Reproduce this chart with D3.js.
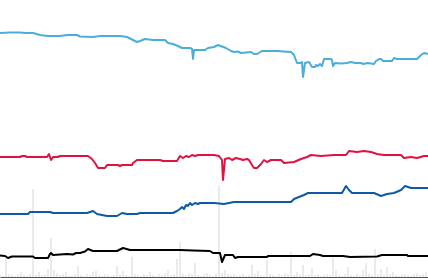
<!DOCTYPE html>
<html>
<head>
<meta charset="utf-8">
<script src="https://cdn.jsdelivr.net/npm/d3@7"></script>
<style>
body { margin: 0; background: #fff; }
svg { display: block; }
.line { fill: none; stroke-width: 2px; stroke-linejoin: round; }
.vol { fill: #eaeaea; }
</style>
</head>
<body>
<div id="chart"></div>
<script>
// four index series as [day, level]
var skyIdx = [[0,245],[10,245.5],[20,245.5],[26,245],[33,245],[40,243],[48,242],[60,242],[67,243],[77,243],[80,241.5],[93,241],[100,242],[120,242],[127,241],[133,238],[137,236],[140,237],[145,239],[153,238],[165,238],[168,235],[173,234],[178,232],[182,230],[190,230],[192,229],[193,219],[194,228],[205,228],[208,230],[214,231],[218,233],[222,231.5],[226,230],[231,227],[234,226],[238,226.5],[241,225],[251,226],[254,224],[257,224],[262,227],[277,227],[291,226],[294,223],[297,215],[301,215],[302,216],[303,201],[305,215],[309,216],[312,211],[315,211],[316,213],[318,212],[320,214],[322,212],[324,219],[331,219],[332,218],[333,212],[335,215],[341,214.5],[347,215],[351,216],[355,215],[361,215],[363,214],[368,215],[374,214],[376,217],[379,219],[381,219],[383,217],[392,217],[394,220],[397,219],[417,219],[421,223],[424,225],[428,224]];

var redIdx = [[0,121],[20,121],[22,122],[25,122],[27,121],[47,121],[49,124],[51,118],[53,121],[58,121],[60,122],[88,122],[92,119],[95,115],[98,110],[105,110],[107,113],[118,113],[120,112],[122,113],[132,113],[133,115],[137,118],[160,118],[163,117],[177,117],[180,122],[183,120],[186,122],[189,121],[192,123],[195,122],[198,123],[214,123],[219,122],[222,118],[223,98],[225,119],[229,120],[232,118],[236,120],[240,119],[243,118],[247,119],[249,118],[252,113],[254,110],[257,110],[261,114],[264,118],[267,116],[271,118],[281,118],[284,115],[294,116],[301,119],[307,121],[311,123],[321,122],[334,123],[346,123],[349,127],[357,126],[364,127],[371,126],[377,124],[384,123],[401,123],[404,120],[411,121],[417,120],[424,122],[428,122]];

var navyIdx = [[0,64],[28,64],[30,66],[50,66],[53,65],[87,65],[93,67],[97,64],[107,62],[117,62],[122,65],[127,64],[137,64],[140,65],[173,65],[177,67],[180,69],[182,71],[184,69],[186,73],[188,72],[190,75],[192,73],[195,75],[198,74],[200,75],[214,75],[224,74],[234,76],[291,76],[294,79],[304,83],[308,85],[337,85],[342,85],[346,92],[349,88],[352,85],[374,85],[381,82],[387,84],[394,85],[401,88],[405,92],[411,90],[428,90]];

var blackIdx = [[0,22.5],[5,22],[8,20],[12,21.5],[33,21.5],[35,20],[48,20],[50,24],[51,25],[53,23],[67,24],[73,23.5],[76,25],[80,25],[85,26.5],[88,29],[93,27],[117,27],[123,30],[130,28],[180,28],[193,27.5],[210,27],[213,25],[220,25],[222,16],[225,23],[233,23],[235,20],[238,21],[267,21],[268,22],[310,22],[313,24],[320,23],[323,22],[343,22],[350,21],[377,21.5],[382,23],[407,23],[408,22],[428,22]];

// volume, one bar every 3 days
var volume = [2,1,19,3,2,1,3,5,2,1,
  3,88,2,5,2,3,8,39,7,4,
  2,3,5,1,2,3,11,2,1,3,
  2,5,6,2,1,3,2,1,2,11,
  3,6,2,1,20,3,2,1,3,2,
  5,2,1,3,2,4,7,2,3,18,
  35,3,2,4,3,14,2,1,3,4,
  2,1,3,92,4,7,3,2,3,1,
  2,3,1,2,12,3,6,2,1,17,
  3,2,1,3,2,4,3,25,2,5,
  3,12,2,3,9,2,3,1,2,3,
  2,22,7,2,1,3,10,2,1,3,
  2,7,14,3,2,28,3,8,2,10,
  3,5,2,1,3,3,2,1,3,4,
  2,3,5];
var volDays = volume.map(function(v, i){ return i * 3; });

var seriesList = [
  {data: skyIdx, color: "#4aaed9"},
  {data: redIdx, color: "#e0123f"},
  {data: navyIdx, color: "#0e5aa6"},
  {data: blackIdx, color: "#000000"}
];

var W = 428, H = 278;
var svg = d3.select("#chart").append("svg").attr("width", W).attr("height", H);

var x = d3.scaleLinear().domain([0, 428]).range([0, W]);
var y = d3.scaleLinear().domain([0, 278]).range([H, 0]);
var yVol = d3.scaleLinear().domain([0, 100]).range([277, 177]);

svg.append("g").selectAll("rect")
  .data(volume)
  .enter().append("rect")
  .attr("class", "vol")
  .attr("x", function(d, i){ return x(volDays[i]) - 1; })
  .attr("width", 2)
  .attr("y", function(d){ return yVol(d); })
  .attr("height", function(d){ return yVol(0) - yVol(d); });

// bottom axis
svg.append("g")
  .attr("transform", "translate(0,277)")
  .call(d3.axisBottom(x).tickValues([]).tickSizeOuter(0))
  .select(".domain").attr("stroke", "#555");

var line = d3.line()
  .x(function(d){ return x(d[0]); })
  .y(function(d){ return y(d[1]); });

seriesList.forEach(function(s){
  svg.append("path")
    .datum(s.data)
    .attr("class", "line")
    .attr("stroke", s.color)
    .attr("d", line);
});
</script>
</body>
</html>
